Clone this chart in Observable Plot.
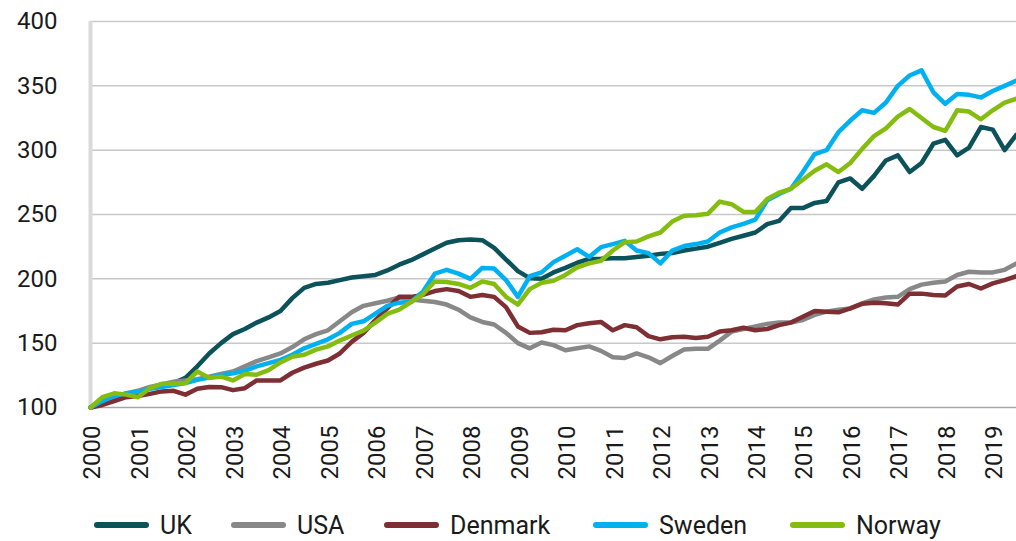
<!DOCTYPE html>
<html>
<head>
<meta charset="utf-8">
<script src="https://cdn.jsdelivr.net/npm/d3@7"></script>
<script src="https://cdn.jsdelivr.net/npm/@observablehq/plot@0.6"></script>
<style>
  html, body { margin: 0; padding: 0; background: #fff; }
  body { width: 1016px; height: 541px; overflow: hidden; font-family: Roboto, "Noto Sans", sans-serif; }
  #chart { position: absolute; left: 0; top: 0; }
  #legend { position: absolute; left: 0; top: 506px; width: 1016px; height: 38px; font-size: 25px; color: #1a1a1a; }
  .item { position: absolute; top: 0; height: 38px; display: flex; align-items: center; white-space: nowrap; }
  .sw { width: 55px; height: 6px; border-radius: 3px; margin-right: 11px; }
</style>
</head>
<body>
<div id="chart"></div>
<div id="legend"></div>
<script>
// Quarterly observations, first quarter of 2000 onwards (index 2000 = 100)
const startYear = 2000;
const stepYears = 0.25;

const seriesNames = ["UK", "USA", "Denmark", "Sweden", "Norway"];
const seriesColors = ["#0b525a", "#888888", "#7e2f34", "#00b0f0", "#84bd10"];

const uk = [100,103,107,110,112,115,117,119,123,132,142,150,157,161,166,170,175,185,193,196,197,199,201,202,203,206.5,211,214.5,219,223.5,228,230,230.5,230,224,215,206,200.5,200,205,208.5,212.5,215.5,215.6,216,216,217,218,219.4,220,222,223.5,225,228,231,233.5,236,242.5,245,255,255,259,260.5,275,278,270,280,292,296,283,290,305,308,296,302,318,316,300,312];
const usa = [100,104,108,111,113,116,118,120,121,122,124,126,128,132,136,139,142,147,153,157,160,167,174,179,181,183,185.5,184,183,182,180,176,170,166.5,164.5,158,150,146,150.5,148.5,144.5,146,147.5,144,139,138.5,142,139,134.5,140,145,145.6,145.6,152,159,161,163,165,166,166,168,172,174.5,176,177,181,184,185.5,186,192,195.5,197,198,203,205.5,205,205,207,212];
const denmark = [100,102,105,108,109,110.6,112.5,113,110,114.5,116,115.8,113.5,115,121,121,121,127,131,134,136.5,142,151,158,168,177,186,186,187.5,190.5,192,190.5,186,187.5,186,178,163,158,158.5,160.4,160,164,165.5,166.5,160,164,162.4,155.5,153,154.6,155,154,155,159,160,162,160,161,164,166,170.5,175,174.5,174,177,180.6,181.5,181,180,188.5,188.5,187.5,187,194,196,192.5,196.5,199,202];
const sweden = [100,105,109,111,112,114.5,116,117.5,119,121.5,123.3,125,126.5,128.5,132,134.5,137,141,146,149.5,153,158,165,167,173,179,181.5,182,190,204,207,204,200,208.5,208,199,186,202,205,213,218,223,217,224.6,227,229.5,222,220,212,222,225.5,227,229,236,240,242.7,246,261,266,270,283,297,300,314,323,331,329,337,350,358,362,345,336,343.7,343,341,346,350,354];
const norway = [100,108,111,110,108,115,118.4,118.4,119,128,123,124,121,126,125.5,129,135,139.5,141,145,147.5,152,156,159.8,166,172.8,176,182,188,198,197.5,196,193,198,196,186,180,192,197,198.5,203,209,212,214,222,228.5,229,233,236,244.5,249,249.5,250.5,260,258,252,252,262,267,270,277,284,289,283,290,301,311,317,326,332,325,318,315,331,330,324,331,337,340];

const yTicks = [100, 150, 200, 250, 300, 350, 400];
const xTicks = d3.range(2000, 2020);

const seriesValues = [uk, usa, denmark, sweden, norway];
const rows = [];
seriesNames.forEach((name, k) => {
  seriesValues[k].forEach((v, i) => rows.push({series: name, t: startYear + i * stepYears, v}));
});

const chart = Plot.plot({
  width: 1016,
  height: 500,
  marginLeft: 90,
  marginRight: 0,
  marginTop: 21,
  marginBottom: 93,
  style: {fontFamily: "Roboto, 'Noto Sans', sans-serif", fontSize: "24px", color: "#1a1a1a", background: "#fff"},
  x: {domain: [2000, 2019.5]},
  y: {domain: [100, 400]},
  color: {domain: seriesNames, range: seriesColors},
  marks: [
    Plot.ruleY(yTicks.filter(d => d > 100), {stroke: "#c8c8c8", strokeWidth: 1.5}),
    Plot.ruleX([2000], {stroke: "#d9d9d9", strokeWidth: 4}),
    Plot.ruleY([100], {stroke: "#a6a6a6", strokeWidth: 1.5}),
    Plot.axisY({ticks: yTicks, tickSize: 0, tickPadding: 33, fontSize: 24, label: null}),
    Plot.axisX({ticks: xTicks, tickFormat: "d", tickRotate: -90, tickSize: 0, tickPadding: 18, fontSize: 24, label: null, dx: 2}),
    ...seriesNames.map(name => Plot.line(rows.filter(r => r.series === name), {
      x: "t", y: "v", stroke: "series", strokeWidth: 4.5, strokeLinejoin: "round", strokeLinecap: "round"
    }))
  ]
});
document.getElementById("chart").appendChild(chart);

const legendLefts = [94, 231, 384, 593, 790];
const legend = document.getElementById("legend");
seriesNames.forEach((name, k) => {
  const item = document.createElement("div");
  item.className = "item";
  item.style.left = legendLefts[k] + "px";
  const sw = document.createElement("div");
  sw.className = "sw";
  sw.style.background = seriesColors[k];
  const label = document.createElement("span");
  label.textContent = name;
  item.appendChild(sw);
  item.appendChild(label);
  legend.appendChild(item);
});
</script>
</body>
</html>
